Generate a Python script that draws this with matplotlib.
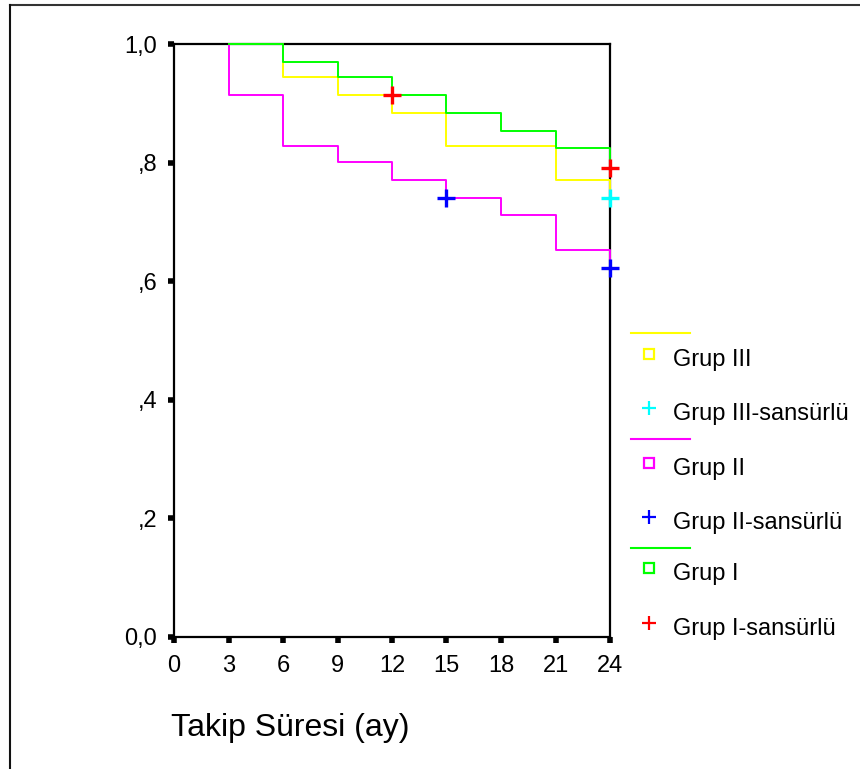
import matplotlib
matplotlib.use("Agg")
import matplotlib.pyplot as plt
from matplotlib.lines import Line2D

plt.rcParams["font.family"] = ["Liberation Sans", "DejaVu Sans"]

# survival steps (time of event, survival after event)
grup1_t = [3, 6, 9, 12, 15, 18, 21, 24]
grup1_s = [1.0, 0.970, 0.944, 0.914, 0.884, 0.854, 0.825, 0.791]
grup2_t = [3, 3, 6, 9, 12, 15, 18, 21, 24]
grup2_s = [1.0, 0.914, 0.828, 0.801, 0.771, 0.741, 0.712, 0.652, 0.622]
grup3_t = [3, 6, 9, 12, 15, 21, 24]
grup3_s = [1.0, 0.944, 0.914, 0.884, 0.828, 0.771, 0.741]

# censored observations
cens1_t = [12, 24]
cens1_s = [0.914, 0.791]
cens2_t = [15, 24]
cens2_s = [0.741, 0.622]
cens3_t = [24]
cens3_s = [0.741]

xticks = [0, 3, 6, 9, 12, 15, 18, 21, 24]
yticks = [0.0, 0.2, 0.4, 0.6, 0.8, 1.0]
ytick_labels = ["0,0", ",2", ",4", ",6", ",8", "1,0"]

legend_items = [
    ("line", "#ffff00", ""),
    ("s", "#ffff00", "Grup III"),
    ("+", "#00ffff", "Grup III-sansürlü"),
    ("line", "#ff00ff", ""),
    ("s", "#ff00ff", "Grup II"),
    ("+", "#0000ff", "Grup II-sansürlü"),
    ("line", "#00ff00", ""),
    ("s", "#00ff00", "Grup I"),
    ("+", "#ff0000", "Grup I-sansürlü"),
]

W, H = 860, 769
fig = plt.figure(figsize=(W / 100, H / 100), dpi=100)
ax = fig.add_axes([174 / W, 1 - 637 / H, 436 / W, 593 / H])

kw = dict(where="post", lw=1.4, clip_on=False, zorder=4)
ax.step(grup2_t, grup2_s, color="#ff00ff", **kw)
ax.step(grup3_t, grup3_s, color="#ffff00", **kw)
ax.step(grup1_t, grup1_s, color="#00ff00", **kw)

mk = dict(marker="+", ms=13, mew=2.4, ls="none", clip_on=False, zorder=5)
ax.plot(cens2_t, cens2_s, color="#0000ff", **mk)
ax.plot(cens3_t, cens3_s, color="#00ffff", **mk)
ax.plot(cens1_t, cens1_s, color="#ff0000", **mk)

ax.set_xlim(0, 24)
ax.set_ylim(0, 1)
ax.set_xticks(xticks)
ax.set_yticks(yticks)
ax.set_yticklabels(ytick_labels)
for sp in ax.spines.values():
    sp.set_linewidth(1.6)
    sp.set_zorder(3)
ax.tick_params(direction="out", length=4, width=4, labelsize=17)
ax.tick_params(axis="x", pad=9)
ax.tick_params(axis="y", pad=8)

fig.text(171 / W, 1 - 728 / H, "Takip Süresi (ay)", fontsize=23,
         ha="left", va="center")

# legend drawn by hand to the right of the plot
row_y = [333, 354, 408, 439, 463, 517, 548, 568, 623]
for (kind, col, label), py in zip(legend_items, row_y):
    y = 1 - py / H
    if kind == "line":
        fig.add_artist(Line2D([631 / W, 690 / W], [y, y], color=col, lw=1.5))
    else:
        if kind == "s":
            fig.add_artist(Line2D([649 / W], [y], marker="s", ms=7, mfc="none",
                                  mec=col, mew=1.6, ls="none"))
        else:
            fig.add_artist(Line2D([649 / W], [y], marker="+", ms=10, mec=col,
                                  mew=1.6, ls="none"))
        fig.text(673 / W, y - 6 / H, label, fontsize=17, ha="left", va="center")

# outer frame (top and left edges only)
fig.add_artist(Line2D([10 / W, 1], [1 - 5 / H, 1 - 5 / H], color="#333333", lw=1.5))
fig.add_artist(Line2D([10 / W, 10 / W], [0, 1 - 5 / H], color="#111111", lw=1.5))

fig.savefig("out.png", dpi=100)
